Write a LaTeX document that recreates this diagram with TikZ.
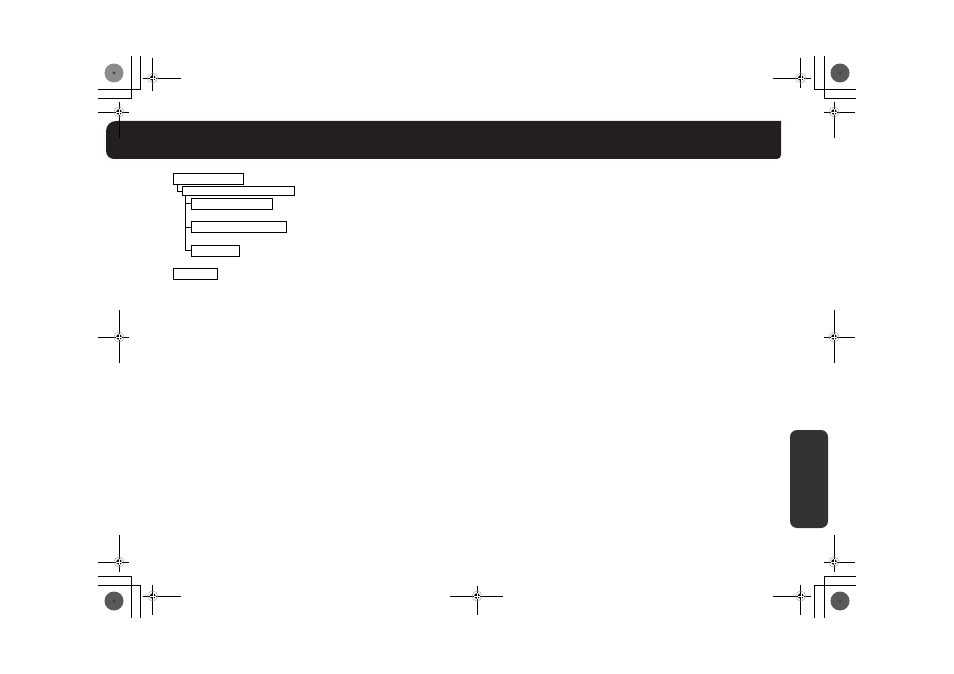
\documentclass[tikz,border=0pt]{standalone}
\usepackage{tikz}
\usetikzlibrary{positioning, calc}

\definecolor{barfill}{HTML}{231F20}
\definecolor{tabfill}{HTML}{333333}

\tikzset{
	treebox/.style={draw, black, line width=0.9pt, inner sep=0pt, fill=white},
	treeline/.style={black, line width=0.9pt},
	trimline/.style={black, line width=0.8pt},
	pics/regmark/.style n args={4}{code={
		\draw[black, line width=0.8pt] (-#1,0) -- (#2,0);
		\draw[black, line width=0.8pt] (0,-#3) -- (0,#4);
		\draw[gray!70, line width=0.5pt] (0,0) circle (5);
		\fill[black] (0,0) circle (2.8);
		\draw[white, line width=0.4pt] (-2.8,0) -- (2.8,0) (0,-2.8) -- (0,2.8);
	}}
}

\begin{document}
\begin{tikzpicture}[x=1pt, y=-1pt]
		\useasboundingbox (0,0) rectangle (954,674);
		%
		%header bar
		\fill[barfill] (781,121) [rounded corners=4] -- (781,159) [rounded corners=8] -- (106,159) [rounded corners=10] -- (106,121) [sharp corners] -- cycle;
		%side tab
		\fill[tabfill, rounded corners=7] (790,430) rectangle (828,528);
		%
		%trim marks
		\draw[trimline] (140,56) -- (140,89) -- (98,89);
		\draw[trimline] (131,56) -- (131,98) -- (98,98);
		\draw[trimline] (814,56) -- (814,89) -- (856,89);
		\draw[trimline] (824,56) -- (824,98) -- (856,98);
		\draw[trimline] (98,576) -- (131,576) -- (131,618);
		\draw[trimline] (98,585) -- (140,585) -- (140,618);
		\draw[trimline] (856,576) -- (824,576) -- (824,618);
		\draw[trimline] (856,585) -- (814,585) -- (814,618);
		%
		%colour discs
		\fill[black!45] (114,73) circle (9.5);
		\foreach \Point in {(840,73), (114,601), (840,601)}{
			\fill[black!65] \Point circle (9.5);
		}
		\foreach \Point in {(114,73), (840,73), (114,601), (840,601)}{
			\fill[black!75] \Point circle (1.5);
		}
		%
		%register marks
		\pic at (152.7,78) {regmark={10}{28}{20}{13}};
		\pic at (119,112) {regmark={21}{10}{10}{26}};
		\pic at (800.7,78) {regmark={28}{10}{20}{10}};
		\pic at (834,112) {regmark={10}{21}{10}{26}};
		\pic at (119,337) {regmark={21}{10}{27}{26}};
		\pic at (834,337) {regmark={10}{21}{27}{26}};
		\pic at (119,562) {regmark={21}{10}{27}{10}};
		\pic at (152.7,596) {regmark={10}{28}{11}{19}};
		\pic at (477,596) {regmark={27}{26}{10}{19}};
		\pic at (834,562) {regmark={10}{21}{27}{10}};
		\pic at (800.7,596) {regmark={28}{10}{11}{19}};
		%
		%tree
		\node[treebox, minimum width=70pt, minimum height=10.7pt] (top) at (208.3,178.7) {};
		\node[treebox, minimum width=112pt, minimum height=9.3pt] (sub) at (238.3,191.3) {};
		\node[treebox, minimum width=81.3pt, minimum height=10.7pt] (leafa) at (231.7,203.7) {};
		\node[treebox, minimum width=95.7pt, minimum height=10.6pt] (leafb) at (238.8,227) {};
		\node[treebox, minimum width=48.3pt, minimum height=11pt] (leafc) at (215.2,250.5) {};
		\node[treebox, minimum width=44pt, minimum height=11pt] (last) at (195.3,273.8) {};
		%
		\draw[treeline] ([xshift=5pt]top.south west) |- (sub.west);
		\foreach \Leaf in {leafa, leafb, leafc}{
			\draw[treeline] ([xshift=3.7pt]sub.south west) |- (\Leaf.west);
		}
		%
\end{tikzpicture}
\end{document}
